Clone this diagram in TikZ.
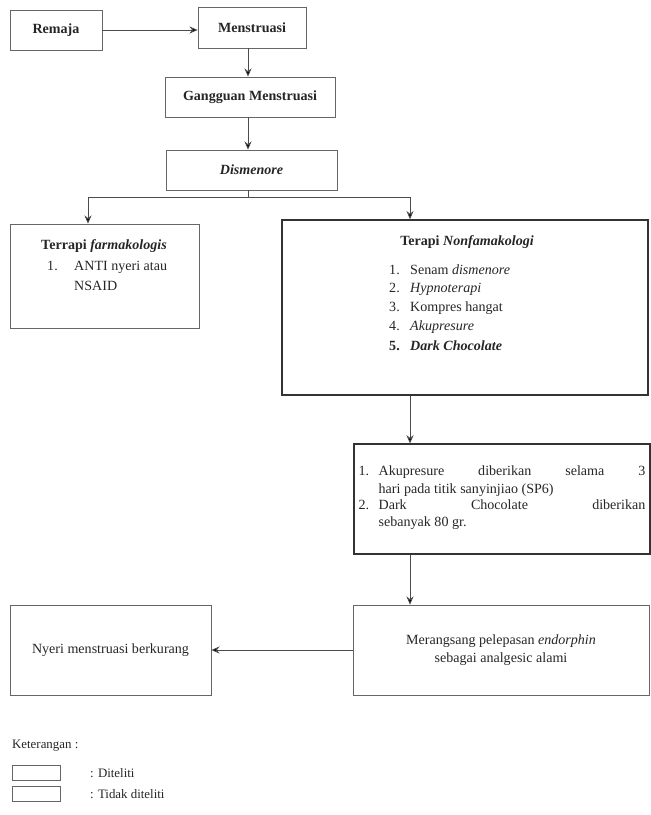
\documentclass[tikz,border=0pt]{standalone}
\usepackage[svgnames]{xcolor}
\usepackage{fontspec}
\setmainfont{Liberation Serif}
\usetikzlibrary{arrows.meta, positioning}

\begin{document}
\begin{tikzpicture}[x=0.03cm, y=-0.03cm,
    font=\fontsize{12}{15}\selectfont, text=black!85,
    box/.style 2 args={draw=black!60, line width=0.6pt, inner sep=0pt,
        minimum width=#1*0.03cm, minimum height=#2*0.03cm},
    keybox/.style 2 args={box={#1}{#2}, draw=black!80, line width=1.3pt},
    link/.style={black!70, line width=0.7pt},
    arr/.style={link, -{Stealth[length=7pt, width=6pt, fill=black]}}]
    \useasboundingbox (0,0) rectangle (651,815);

    % main chain
    \node[box={92}{40}] (remaja) at (56,30) {\textbf{Remaja}};
    \node[box={108}{41}] (mens) at (252,27.5) {\textbf{Menstruasi}};
    \node[box={170}{40}] (gang) at (250,97) {\textbf{Gangguan Menstruasi}};
    \node[box={171}{40}] (dism) at (251.5,170) {\textbf{\textit{Dismenore}}};

    \draw[arr] (remaja.east) -- (remaja.east -| mens.west);
    \draw[arr] (mens.south -| 248,0) -- (gang.north -| 248,0);
    \draw[arr] (gang.south -| 248,0) -- (dism.north -| 248,0);

    % two kinds of therapy
    \node[box={189}{104}] (farm) at (104.5,276) {};
    \node (farmtitle) at (104,246) {\textbf{Terrapi \textit{farmakologis}}};
    \node[anchor=north west, align=left, inner sep=0pt, font=\fontsize{12}{17}\selectfont] (farmlist) at (47,261)
        {\makebox[0.81cm][l]{1.}ANTI nyeri atau\\ \hspace*{0.81cm}NSAID};

    \node[keybox={366}{175}] (nonf) at (465,307.5) {};
    \node (nonftitle) at (467,242) {\textbf{Terapi \textit{Nonfamakologi}}};
    \foreach \num/\txt [count=\i] in {1./Senam \textit{dismenore}, 2./\textit{Hypnoterapi},
        3./Kompres hangat, 4./\textit{Akupresure}, \textbf{5.}/\textbf{\textit{Dark Chocolate}}}
        \node[anchor=west, inner sep=0pt] (item\i) at (389, 251+19*\i) {\makebox[0.63cm][l]{\num}\txt};

    \coordinate (split) at (248,197);
    \coordinate (bl) at (88,197);
    \coordinate (br) at (410,197);
    \draw[link] (dism.south -| split) -- (split);
    \draw[link] (bl) -- (br);
    \draw[arr] (bl) -- (bl |- farm.north);
    \draw[arr] (br) -- (br |- nonf.north);

    % intervention and effect
    \node[keybox={296}{110}, line width=1pt, text width=8.6cm, align=justify] (interv) at (502,499)
        {\makebox[0.6cm][l]{1.}\parbox[t]{8cm}{Akupresure diberikan selama 3\linebreak
            hari pada titik sanyinjiao (SP6)\strut}\par
         \makebox[0.6cm][l]{2.}\parbox[t]{8cm}{Dark Chocolate diberikan\linebreak
            sebanyak 80 gr.\strut}};
    \node[box={296}{90}, align=center] (endor) at (501,650)
        {Merangsang pelepasan \textit{endorphin}\\ sebagai analgesic alami};
    \node[box={201}{90}] (nyeri) at (110.5,650) {Nyeri menstruasi berkurang};

    \draw[arr] (br |- nonf.south) -- (br |- interv.north);
    \draw[arr] (br |- interv.south) -- (br |- endor.north);
    \draw[arr] (endor.west) -- (nyeri.east);

    % legend
    \node[anchor=west, font=\fontsize{11}{13}\selectfont] (ket) at (8,746) {Keterangan :};
    \node[box={48}{15}] (legdit) at (36,772.5) {};
    \node[box={48}{15}] (legtdk) at (36,793.5) {};
    \node[anchor=west, font=\fontsize{11}{13}\selectfont] (txtdit) at (86,773) {: Diteliti};
    \node[anchor=west, font=\fontsize{11}{13}\selectfont] (txttdk) at (86,794) {: Tidak diteliti};
\end{tikzpicture}
\end{document}
